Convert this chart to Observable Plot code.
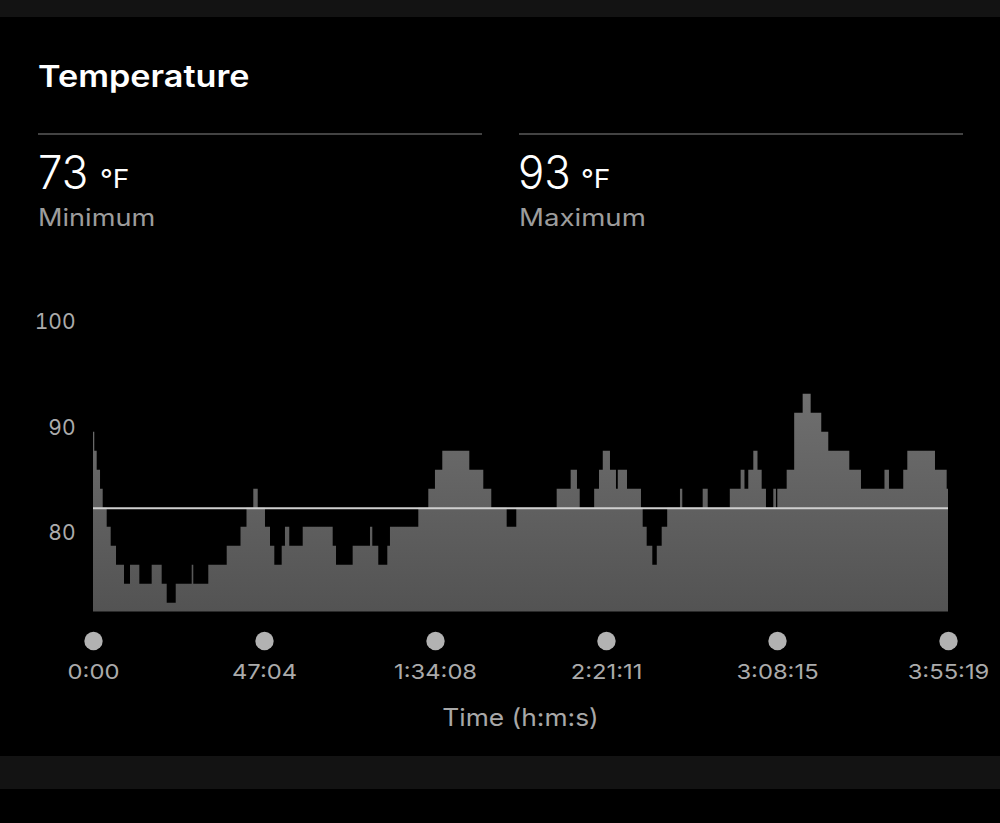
<!DOCTYPE html>
<html>
<head>
<meta charset="utf-8">
<script src="https://cdn.jsdelivr.net/npm/d3@7"></script>
<script src="https://cdn.jsdelivr.net/npm/@observablehq/plot@0.6"></script>
<style>
  html, body { margin: 0; padding: 0; background: #000; }
  #page { position: relative; width: 1000px; height: 823px; background: #000; overflow: hidden; font-family: Inter, "Noto Sans", sans-serif; }
  .band { position: absolute; left: 0; width: 1000px; background: #131313; }
  .t { position: absolute; white-space: nowrap; line-height: 1; transform-origin: 0 0; }
  .rule { position: absolute; height: 2px; background: #434343; }
  #chart { position: absolute; left: 0; top: 280px; }
</style>
</head>
<body>
<div id="page">
  <div class="band" style="top:0;height:17px"></div>
  <div class="band" style="top:756px;height:33px"></div>
  <div class="t" style="left:38px;top:61px;font-size:30px;font-weight:600;color:#fff;transform:scaleX(1.14)">Temperature</div>
  <div class="rule" style="left:38px;top:133px;width:444px"></div>
  <div class="rule" style="left:519px;top:133px;width:444px"></div>
  <div class="t" id="minVal" style="left:38px;top:149px;font-size:46px;font-weight:300;color:#fff;transform:scaleX(0.95)"></div>
  <div class="t" id="minUnit" style="left:100px;top:166px;font-size:26px;color:#fff;transform:scaleX(1.08)"></div>
  <div class="t" style="left:38px;top:206px;font-size:24px;color:#9c9c9c;transform:scaleX(1.13)">Minimum</div>
  <div class="t" id="maxVal" style="left:518px;top:149px;font-size:46px;font-weight:300;color:#fff;transform:scaleX(0.95)"></div>
  <div class="t" id="maxUnit" style="left:581px;top:166px;font-size:26px;color:#fff;transform:scaleX(1.08)"></div>
  <div class="t" style="left:519px;top:206px;font-size:24px;color:#9c9c9c;transform:scaleX(1.15)">Maximum</div>
  <div id="chart"></div>
  <div class="t" style="left:420px;width:201px;text-align:center;top:706px;font-size:24px;color:#a8a8a8;transform:scaleX(1.1);transform-origin:50% 0">Time (h:m:s)</div>
</div>
<script>
// time (seconds since start) where each step begins
const seconds = [0,21,61,116,160,226,292,380,512,611,765,969,1134,1217,1366,1630,1656,1904,2208,2436,2535,2647,2720,2840,2923,2994,3116,3170,3241,3463,3958,4013,4288,4574,4612,4711,4860,4904,5372,5537,5647,5768,6214,6445,6577,6831,6990,7657,7888,7992,8037,8276,8356,8418,8537,8636,8666,8818,9049,9077,9143,9236,9310,9391,9482,9693,9731,10068,10151,10516,10695,10758,10821,10904,10973,11042,11113,11234,11278,11300,11455,11579,11719,11851,12026,12142,12489,12682,13070,13144,13380,13447,13904,14097,14119];
// temperature (°F) of each step
const tempF = [89.6,87.8,86,84.2,82.4,80.6,78.8,77,75.2,77,75.2,77,75.2,73.4,75.2,77,75.2,77,78.8,80.6,82.4,84.2,82.4,80.6,78.8,77,78.8,80.6,78.8,80.6,78.8,77,78.8,80.6,78.8,77,78.8,80.6,82.4,84.2,86,87.8,86,84.2,82.4,80.6,82.4,84.2,86,84.2,82.4,84.2,86,87.8,86,84.2,86,84.2,82.4,80.6,78.8,77,78.8,80.6,82.4,84.2,82.4,84.2,82.4,84.2,86,84.2,86,87.8,86,84.2,82.4,84.2,82.4,84.2,86,91.4,93.2,91.4,89.6,87.8,86,84.2,86,84.2,86,87.8,86,84.2,84.2];
const averageF = 82.4;
const minLabel = "73";
const maxLabel = "93";
const unitLabel = "°F";
const yTicks = [80, 90, 100];
const xTicks = [0, 2824, 5648, 8471, 11295, 14119];
const xTickLabels = ["0:00", "47:04", "1:34:08", "2:21:11", "3:08:15", "3:55:19"];
const yMin = 72.56, yMax = 100;

document.getElementById("minVal").textContent = minLabel;
document.getElementById("maxVal").textContent = maxLabel;
document.getElementById("minUnit").textContent = unitLabel;
document.getElementById("maxUnit").textContent = unitLabel;

const data = seconds.map((s, i) => ({s, t: tempF[i]}));
const ticks = xTicks.map((s, i) => ({s, label: xTickLabels[i]}));

const defs = () => {
  const d = d3.create("svg:defs");
  const g = d.append("linearGradient").attr("id", "areaGrad").attr("x1", 0).attr("y1", 0).attr("x2", 0).attr("y2", 1);
  g.append("stop").attr("offset", "0%").attr("stop-color", "#6f6f6f");
  g.append("stop").attr("offset", "100%").attr("stop-color", "#535353");
  return d.node();
};

const chart = Plot.plot({
  width: 1000,
  height: 420,
  marginLeft: 93,
  marginRight: 52,
  marginTop: 42,
  marginBottom: 88.5,
  style: {background: "transparent", color: "#ababab", fontSize: "21px", fontFamily: "Inter, 'Noto Sans', sans-serif"},
  x: {domain: [0, 14119], axis: null},
  y: {domain: [yMin, yMax], ticks: yTicks, tickSize: 0, tickPadding: 18, label: null},
  marks: [
    defs,
    Plot.areaY(data, {x: "s", y1: () => yMin, y2: "t", curve: "step-after", fill: "url(#areaGrad)"}),
    Plot.ruleY([averageF], {stroke: "#cfcfcf", strokeWidth: 2}),
    Plot.dot(ticks, {x: "s", frameAnchor: "bottom", dy: 29, r: 9.2, fill: "#b2b2b2", stroke: null}),
    Plot.text(ticks, {x: "s", text: "label", frameAnchor: "bottom", dy: 67, fontSize: 20.5, fill: "#ababab"})
  ]
});
// widen the x tick labels horizontally about their anchor point
d3.select(chart).selectAll('g[aria-label="text"] text').each(function () {
  const x = +this.getAttribute("x") || 0, y = +this.getAttribute("y") || 0;
  const tr = this.getAttribute("transform") || "";
  this.setAttribute("transform", `${tr} translate(${x},${y}) scale(1.16,1) translate(${-x},${-y})`);
});
document.getElementById("chart").appendChild(chart);
</script>
</body>
</html>
